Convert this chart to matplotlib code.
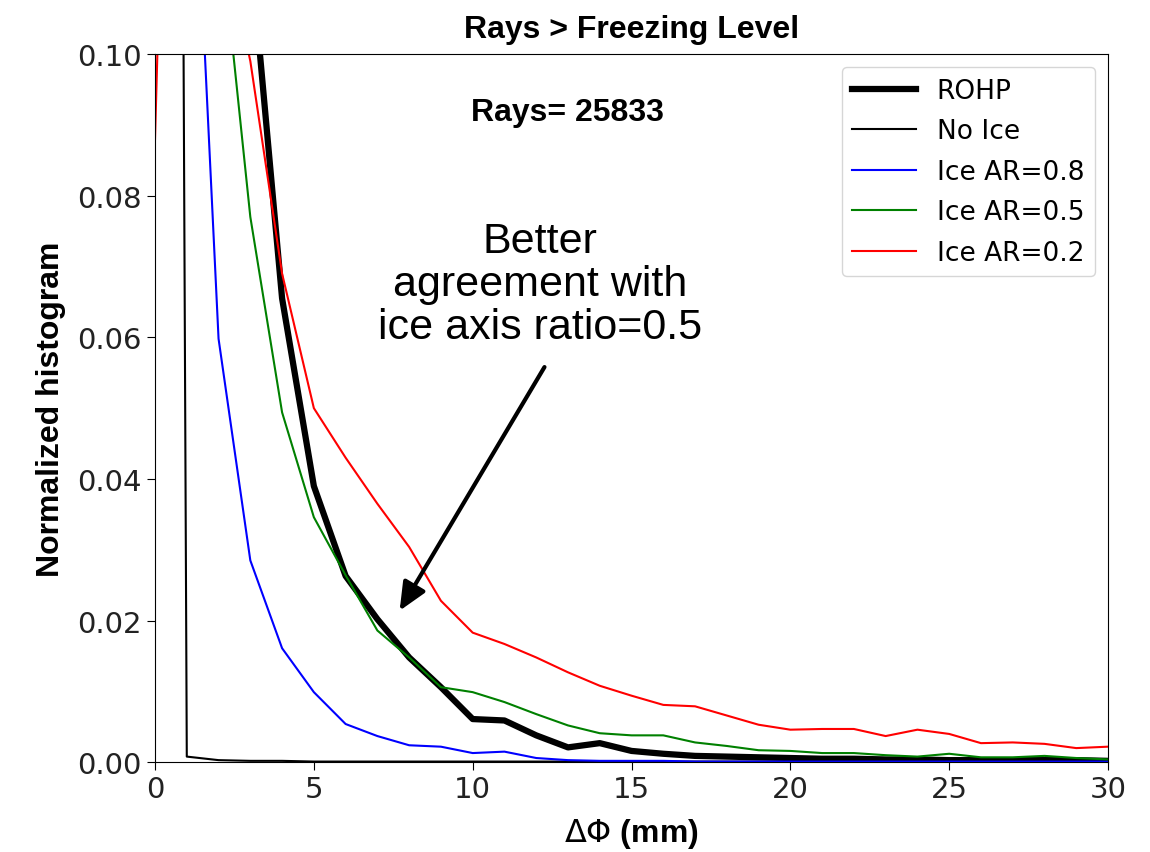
import matplotlib
matplotlib.use('Agg')
import matplotlib.pyplot as plt

# dPhi bins (mm)
dphi = list(range(31))

rohp = [0.15, 0.25, 0.2, 0.115, 0.0655, 0.039, 0.0263, 0.0202, 0.0148, 0.0106,
        0.0061, 0.0059, 0.0038, 0.0021, 0.0027, 0.0016, 0.0012, 0.0009, 0.0008, 0.0007,
        0.0006, 0.0005, 0.0005, 0.0004, 0.0004, 0.0003, 0.0003, 0.0003, 0.0003, 0.0003, 0.0002]
no_ice = [0.98, 0.0008, 0.0003, 0.0002, 0.0002, 0.0001, 0.0001, 0.0001, 0.0001, 0.0001,
          0.0001, 0.0001, 0.0001, 0.0001, 0.0001, 0.0001, 0.0001, 0.0001, 0.0001, 0.0001,
          0.0001, 0.0001, 0.0001, 0.0001, 0.0001, 0.0001, 0.0001, 0.0001, 0.0001, 0.0001, 0.0001]
ice_08 = [0.3, 0.153, 0.0598, 0.0285, 0.0161, 0.0099, 0.0054, 0.0037, 0.0024, 0.0022,
          0.0013, 0.0015, 0.0006, 0.0003, 0.0002, 0.0002, 0.0002, 0.0001, 0.0001, 0.0001,
          0.0001, 0.0001, 0.0001, 0.0001, 0.0001, 0.0001, 0.0001, 0.0001, 0.0001, 0.0001, 0.0001]
ice_05 = [0.15, 0.2, 0.12, 0.077, 0.0494, 0.0346, 0.0264, 0.0186, 0.0148, 0.0106,
          0.0099, 0.0085, 0.0068, 0.0052, 0.0041, 0.0038, 0.0038, 0.0028, 0.0023, 0.0017,
          0.0016, 0.0013, 0.0013, 0.0010, 0.0008, 0.0012, 0.0007, 0.0007, 0.0009, 0.0006, 0.0004]
ice_02 = [0.088, 0.25, 0.12, 0.099, 0.069, 0.050, 0.043, 0.0365, 0.0304, 0.0228,
          0.0183, 0.0167, 0.0148, 0.0127, 0.0108, 0.0094, 0.0081, 0.0079, 0.0066, 0.0053,
          0.0046, 0.0047, 0.0047, 0.0037, 0.0046, 0.0040, 0.0027, 0.0028, 0.0026, 0.0020, 0.0022]

n_rays = 25833
xticks = [0, 5, 10, 15, 20, 25, 30]
yticks = [0.00, 0.02, 0.04, 0.06, 0.08, 0.10]

plt.rcParams['font.family'] = ['DejaVu Sans']
arial = 'Liberation Sans'

fig = plt.figure(figsize=(11.5, 8.53), dpi=100)
ax = fig.add_axes([0.1348, 0.1052, 0.8287, 0.8303])

ax.plot(dphi, rohp, color='k', lw=4.5, label='ROHP')
ax.plot(dphi, no_ice, color='k', lw=1.5, label='No Ice')
ax.plot(dphi, ice_08, color='b', lw=1.5, label='Ice AR=0.8')
ax.plot(dphi, ice_05, color='g', lw=1.5, label='Ice AR=0.5')
ax.plot(dphi, ice_02, color='r', lw=1.5, label='Ice AR=0.2')

ax.set_xlim(0, 30)
ax.set_ylim(0, 0.1)
ax.set_xticks(xticks)
ax.set_yticks(yticks)
ax.set_yticklabels(['%.2f' % v for v in yticks])
ax.tick_params(labelsize=21, length=6, labelcolor='#222222')

ax.set_title('Rays > Freezing Level', family=arial, fontweight='bold', fontsize=23, pad=12)
ax.set_ylabel('Normalized histogram', family=arial, fontweight='bold', fontsize=23, labelpad=8)
ax.set_xlabel(r'$\Delta\Phi$ (mm)', family=arial, fontweight='bold', fontsize=23, labelpad=9)

ax.text(0.433, 0.918, 'Rays= %d' % n_rays, transform=ax.transAxes, ha='center', va='center',
        family=arial, fontweight='bold', fontsize=23)

ax.legend(loc='upper right', fontsize=19, handlelength=2.4, labelspacing=0.55)

# annotation
ax.text(0.404, 0.675, 'Better\nagreement with\nice axis ratio=0.5', transform=ax.transAxes,
        ha='center', va='center', family=arial, fontsize=31, linespacing=1.1)
ax.annotate('', xy=(7.7, 0.0214), xytext=(12.26, 0.0558),
            arrowprops=dict(arrowstyle='-|>,head_length=0.85,head_width=0.38', lw=3, color='k',
                            mutation_scale=20, shrinkA=0, shrinkB=0))

fig.savefig('out.png', dpi=100)
